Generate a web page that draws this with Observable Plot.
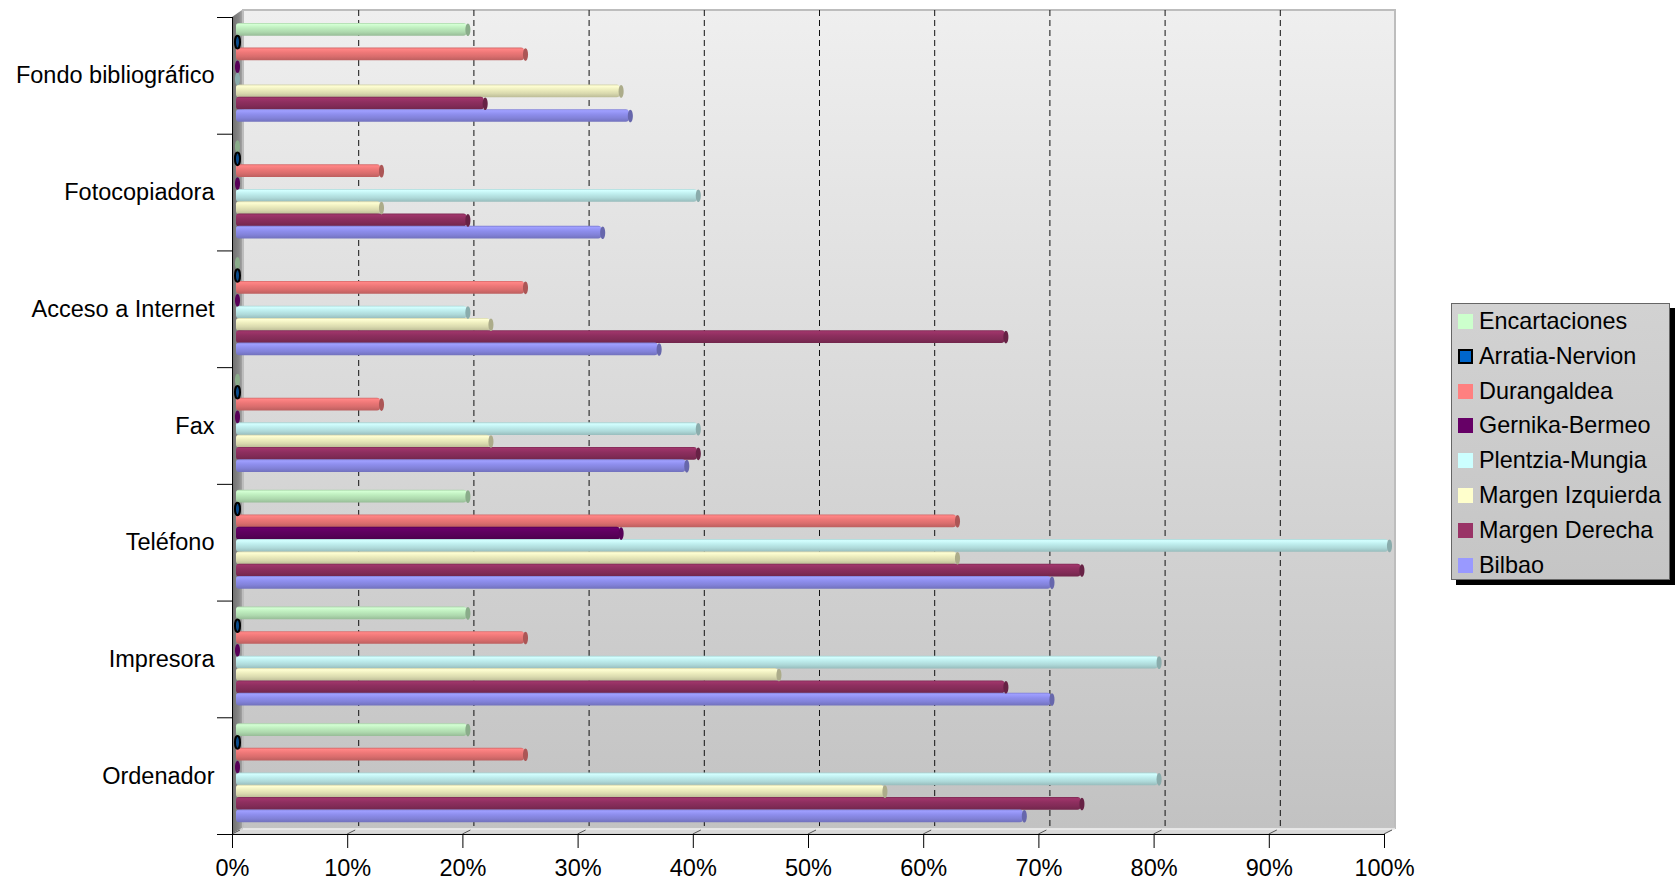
<!DOCTYPE html>
<html><head><meta charset="utf-8">
<script src="https://cdn.jsdelivr.net/npm/d3@7"></script>
<script src="https://cdn.jsdelivr.net/npm/@observablehq/plot@0.6"></script>
<style>
body{margin:0;background:#fff;font-family:"Liberation Sans",Arial,sans-serif;}
#wrap{position:relative;width:1675px;height:881px;overflow:hidden;}
#chart{position:absolute;left:0;top:0;}
#legend{position:absolute;left:1451px;top:303px;width:219px;height:277px;box-sizing:border-box;border:1px solid #666;background:linear-gradient(#d2d2d2,#c5c5c5);box-shadow:5px 5px 0 #000;}
.row{position:absolute;left:6px;height:30px;display:flex;align-items:center;font-size:23.4px;color:#000;white-space:nowrap;}
.sw{width:15px;height:15px;margin-right:6px;box-sizing:border-box;flex:none;}
</style></head>
<body><div id="wrap"><div id="chart"></div><div id="legend"></div></div>
<script>
// ---- data ----
const categories = ["Fondo bibliográfico","Fotocopiadora","Acceso a Internet","Fax","Teléfono","Impresora","Ordenador"];
const seriesNames = ["Encartaciones","Arratia-Nervion","Durangaldea","Gernika-Bermeo","Plentzia-Mungia","Margen Izquierda","Margen Derecha","Bilbao"];
const seriesColors = ["#ccffcc","#0066cc","#ff8080","#660066","#ccffff","#ffffcc","#993366","#9999ff"];
// values in %, one per category (top to bottom)
const encartaciones   = [20, 0, 0, 0, 20, 20, 20];
const arratiaNervion  = [0, 0, 0, 0, 0, 0, 0];
const durangaldea     = [25, 12.5, 25, 12.5, 62.5, 25, 25];
const gernikaBermeo   = [0, 0, 0, 0, 33.3, 0, 0];
const plentziaMungia  = [0, 40, 20, 40, 100, 80, 80];
const margenIzquierda = [33.3, 12.5, 22, 22, 62.5, 47, 56.2];
const margenDerecha   = [21.5, 20, 66.7, 40, 73.3, 66.7, 73.3];
const bilbao          = [34.1, 31.7, 36.6, 39, 70.7, 70.7, 68.3];
const xTicks = [0, 0.1, 0.2, 0.3, 0.4, 0.5, 0.6, 0.7, 0.8, 0.9, 1];

const seriesValues = [encartaciones, arratiaNervion, durangaldea, gernikaBermeo, plentziaMungia, margenIzquierda, margenDerecha, bilbao];
const records = [];
seriesValues.forEach((vals, si) => vals.forEach((v, ci) => records.push({ci, si, cat: categories[ci], series: seriesNames[si], value: v / 100})));

// ---- layout constants ----
const SLOT = 0.1055, HALF = 0.0545;
const center = d => d.ci + SLOT * (d.si + 1);

const ellipse = {
  draw(ctx, size) {
    const ry = Math.sqrt(size / Math.PI), rx = ry * 0.4, k = 0.5523;
    ctx.moveTo(rx, 0);
    ctx.bezierCurveTo(rx, ry * k, rx * k, ry, 0, ry);
    ctx.bezierCurveTo(-rx * k, ry, -rx, ry * k, -rx, 0);
    ctx.bezierCurveTo(-rx, -ry * k, -rx * k, -ry, 0, -ry);
    ctx.bezierCurveTo(rx * k, -ry, rx, -ry * k, rx, 0);
    ctx.closePath();
  }
};

const decor = (index, scales) => {
  const {x, y} = scales;
  const g = d3.create("svg:g");
  const xa = x(0), xb = x(1), yt = y(0), yb = y(categories.length);
  g.append("polygon").attr("points", [[xa, yb], [xa, yt], [xa + 10, yt - 7], [xa + 10, yb - 6]].join(" ")).attr("fill", "url(#leftWall)");
  g.append("polygon").attr("points", [[xa, yb], [xa + 11, yb - 6], [xb + 11, yb - 6], [xb, yb]].join(" ")).attr("fill", "#dadada").attr("stroke", "#c9c9c9");
  g.append("line").attr("x1", xa + 11).attr("x2", xb + 11).attr("y1", yb - 5).attr("y2", yb - 5).attr("stroke", "#ececec").attr("stroke-width", 1.5);
  for (const t of xTicks) {
    g.append("line").attr("x1", x(t)).attr("y1", yb).attr("x2", x(t) + 8).attr("y2", yb - 4).attr("stroke", "#555");
  }
  return g.node();
};

const marks = [
  Plot.rect([0], {x1: 0, x2: 1, y1: 0, y2: categories.length, dx: 11, insetTop: -7, insetBottom: 6, fill: "url(#wallGrad)", stroke: "#bdbdbd", strokeWidth: 2}),
  Plot.ruleX(xTicks.slice(1, -1), {y1: 0, y2: categories.length, dx: 11, insetTop: -7, insetBottom: 6, stroke: "#111", strokeDasharray: "6,4"}),
  decor
];
seriesNames.forEach((name, si) => {
  const rows = records.filter(d => d.si === si);
  marks.push(Plot.rect(rows, {x1: 0, x2: "value", y1: d => center(d) - HALF, y2: d => center(d) + HALF, dx: 4, rx: 3, fill: `url(#bar${si})`}));
});
seriesNames.forEach((name, si) => {
  const rows = records.filter(d => d.si === si);
  const base = d3.color(seriesColors[si]);
  marks.push(Plot.dot(rows, {x: "value", y: center, dx: 5, r: 6.3, symbol: ellipse,
    fill: si === 1 ? "#0a4a8a" : base.darker(si === 3 ? 0.4 : 1.1).formatHex(),
    stroke: si === 1 ? "#000" : "none", strokeWidth: 2}));
});
marks.push(
  Plot.axisY({ticks: d3.range(categories.length).map(i => i + 0.5), tickFormat: d => categories[Math.floor(d)], tickSize: 0, tickPadding: 18, label: null}),
  Plot.axisY({ticks: d3.range(categories.length + 1), tickFormat: () => "", tickSize: 15, label: null}),
  Plot.axisX({ticks: xTicks, tickFormat: d3.format(".0%"), tickSize: 14, tickPadding: 11, label: null}),
  Plot.ruleX([0], {y1: 0, y2: categories.length, stroke: "#000"}),
  Plot.ruleY([categories.length], {x1: 0, x2: 1, stroke: "#000"})
);

const svg = Plot.plot({
  width: 1440,
  height: 881,
  marginLeft: 232,
  marginRight: 56,
  marginTop: 17,
  marginBottom: 47,
  style: {fontSize: "23.5px", fontFamily: "'Liberation Sans', Arial, sans-serif", color: "#000", background: "transparent", overflow: "visible"},
  x: {domain: [0, 1], range: [232, 1384]},
  y: {domain: [0, categories.length], range: [17, 834]},
  marks
});

const defs = d3.select(svg).insert("defs", ":first-child");
const wg = defs.append("linearGradient").attr("id", "wallGrad").attr("x1", 0).attr("y1", 0).attr("x2", 0).attr("y2", 1);
wg.append("stop").attr("offset", 0).attr("stop-color", "#efefef");
wg.append("stop").attr("offset", 1).attr("stop-color", "#c2c2c2");
const lw = defs.append("linearGradient").attr("id", "leftWall").attr("x1", 0).attr("y1", 0).attr("x2", 1).attr("y2", 0);
lw.append("stop").attr("offset", 0).attr("stop-color", "#6e6e6e");
lw.append("stop").attr("offset", 0.7).attr("stop-color", "#888");
lw.append("stop").attr("offset", 1).attr("stop-color", "#a2a2a2");
seriesColors.forEach((c, i) => {
  const base = d3.color(c).darker(0.2);
  const lg = defs.append("linearGradient").attr("id", `bar${i}`).attr("x1", 0).attr("y1", 0).attr("x2", 0).attr("y2", 1);
  [[0, base.darker(0.35)], [0.12, base.brighter(0.3)], [0.4, base], [0.7, base.darker(0.25)], [1, base.darker(0.65)]]
    .forEach(([o, col]) => lg.append("stop").attr("offset", o).attr("stop-color", col.formatHex()));
});
document.getElementById("chart").appendChild(svg);

// ---- legend ----
const legend = document.getElementById("legend");
seriesNames.forEach((name, i) => {
  const row = document.createElement("div");
  row.className = "row";
  row.style.top = (18.7 + i * 34.76 - 15 - 1) + "px";
  const sw = document.createElement("span");
  sw.className = "sw";
  sw.style.background = seriesColors[i];
  if (i === 1) sw.style.border = "2px solid #000";
  const tx = document.createElement("span");
  tx.textContent = name;
  row.appendChild(sw); row.appendChild(tx);
  legend.appendChild(row);
});
</script>
</body></html>
